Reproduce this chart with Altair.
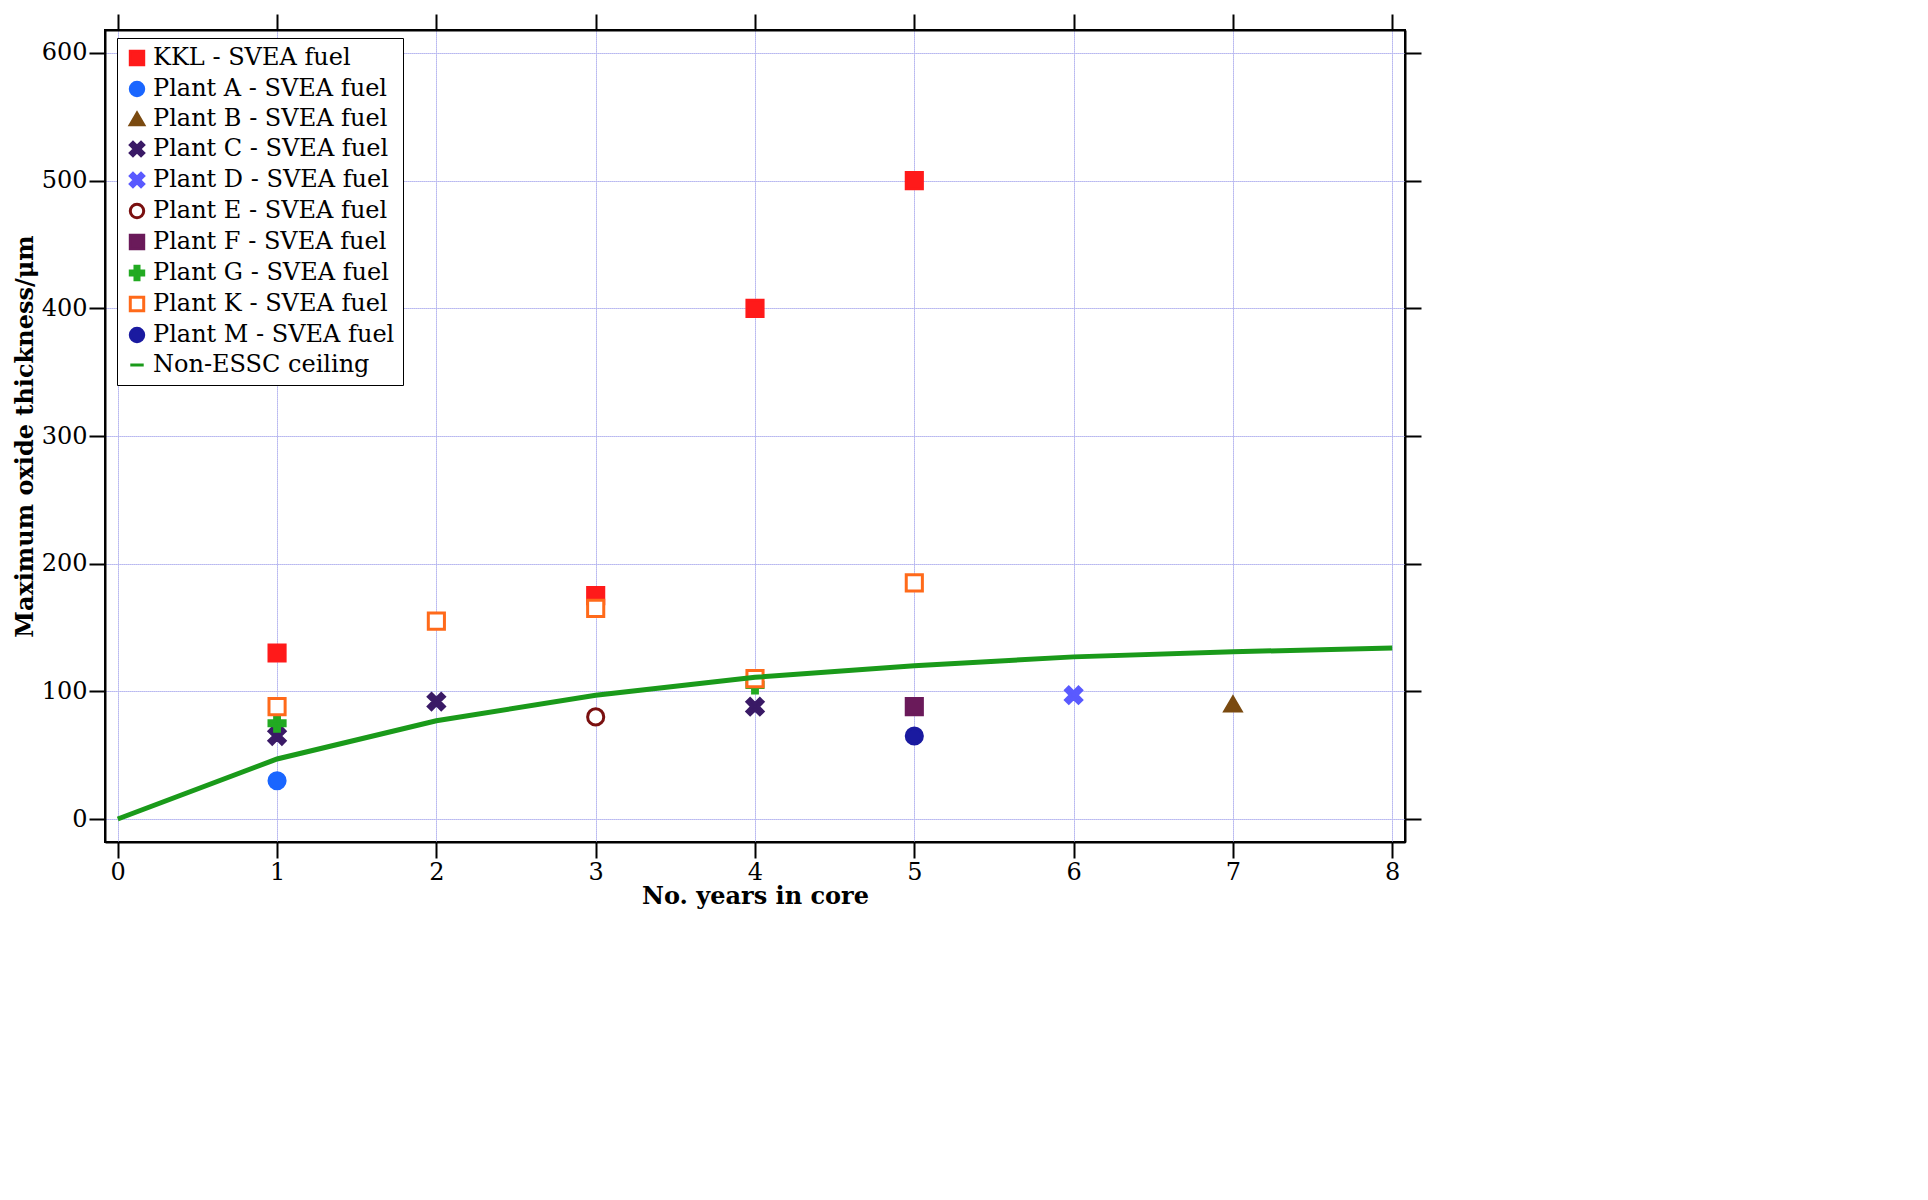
import altair as alt
import pandas as pd

series_names = ["KKL - SVEA fuel", "Plant A - SVEA fuel", "Plant B - SVEA fuel", "Plant C - SVEA fuel",
                "Plant D - SVEA fuel", "Plant E - SVEA fuel", "Plant F - SVEA fuel", "Plant G - SVEA fuel",
                "Plant K - SVEA fuel", "Plant M - SVEA fuel", "Non-ESSC ceiling"]
stroke_colors = ["#ff1a1a", "#1a66ff", "#7a4a10", "#3a1a66", "#5a5aff", "#7a1010", "#6a1a5a", "#22aa22",
                 "#ff6a1a", "#1a1aa0", "#1a9a1a"]
fill_colors = ["#ff1a1a", "#1a66ff", "#7a4a10", "#3a1a66", "#5a5aff", "white", "#6a1a5a", "#22aa22",
               "white", "#1a1aa0", "#1a9a1a"]
xshape = "M-1,-0.6L-0.6,-1L0,-0.4L0.6,-1L1,-0.6L0.4,0L1,0.6L0.6,1L0,0.4L-0.6,1L-1,0.6L-0.4,0Z"
plus = "M-0.3,-1H0.3V-0.3H1V0.3H0.3V1H-0.3V0.3H-1V-0.3H-0.3Z"
shapes = ["square", "circle", "triangle-up", xshape, xshape, "circle", "square", plus, "square", "circle", "stroke"]

kkl_x = [1, 3, 4, 5]; kkl_y = [130, 175, 400, 500]
a_x = [1]; a_y = [30]
b_x = [7]; b_y = [90]
c_x = [1, 2, 4]; c_y = [65, 92, 88]
d_x = [6]; d_y = [97]
e_x = [3]; e_y = [80]
f_x = [5]; f_y = [88]
g_x = [1, 4]; g_y = [75, 105]
k_x = [1, 2, 3, 4, 5]; k_y = [88, 155, 165, 110, 185]
m_x = [5]; m_y = [65]
ceil_x = [0, 1, 2, 3, 4, 5, 6, 7, 8]
ceil_y = [0, 47, 77, 97, 111, 120, 127, 131, 134]

rows = []
for name, xs, ys in zip(series_names[:10],
                        [kkl_x, a_x, b_x, c_x, d_x, e_x, f_x, g_x, k_x, m_x],
                        [kkl_y, a_y, b_y, c_y, d_y, e_y, f_y, g_y, k_y, m_y]):
    for xv, yv in zip(xs, ys):
        rows.append({"x": xv, "y": yv, "series": name})
df_pts = pd.DataFrame(rows)
df_line = pd.DataFrame({"x": ceil_x, "y": ceil_y, "series": series_names[10]})

font = "DejaVu Serif"
xscale = alt.Scale(domain=[-0.08, 8.08], nice=False, zero=False)
yscale = alt.Scale(domain=[-18, 618], nice=False, zero=False)
common_axis = dict(grid=True, gridColor="#b8b8f0", gridDash=[2, 2], domainColor="black", domainWidth=2,
                   tickColor="black", tickWidth=2, tickSize=16, labelFont=font, labelFontSize=24,
                   labelColor="black", titleFont=font, titleFontSize=24, titleColor="black")

legend = alt.Legend(title=None, orient="none", legendX=12, legendY=8, fillColor="white",
                    strokeColor="black", padding=8, labelFont=font, labelFontSize=24, labelColor="black",
                    symbolSize=180, symbolStrokeWidth=3, rowPadding=5, labelLimit=400)

stroke = alt.Color("series:N", scale=alt.Scale(domain=series_names, range=stroke_colors), legend=legend)
fill = alt.Fill("series:N", scale=alt.Scale(domain=series_names, range=fill_colors), legend=legend)
shape = alt.Shape("series:N", scale=alt.Scale(domain=series_names, range=shapes), legend=legend)

line = alt.Chart(df_line).mark_line(strokeWidth=5).encode(
    x=alt.X("x:Q", scale=xscale, axis=alt.Axis(orient="top", labels=False, title="", tickCount=8, **common_axis)),
    y=alt.Y("y:Q", scale=yscale, axis=alt.Axis(orient="right", labels=False, title="", values=list(range(0, 601, 100)), **common_axis)),
    stroke=stroke,
)

points = alt.Chart(df_pts).mark_point(filled=False, size=260, strokeWidth=3, opacity=1).encode(
    x=alt.X("x:Q", scale=xscale, axis=alt.Axis(title="No. years in core", titleFontWeight="bold",
                                              tickCount=8, titlePadding=0, **common_axis)),
    y=alt.Y("y:Q", scale=yscale, axis=alt.Axis(title="Maximum oxide thickness/μm", titleFontWeight="bold",
                                              values=list(range(0, 601, 100)), **common_axis)),
    stroke=stroke, fill=fill, shape=shape,
)

chart = (
    alt.layer(points, line)
    .resolve_axis(x="independent", y="independent")
    .properties(width=1300, height=812, background="white")
    .configure_view(stroke="black", strokeWidth=2)
)
chart.save("out.html", embed_options={"renderer": "svg", "actions": False})
